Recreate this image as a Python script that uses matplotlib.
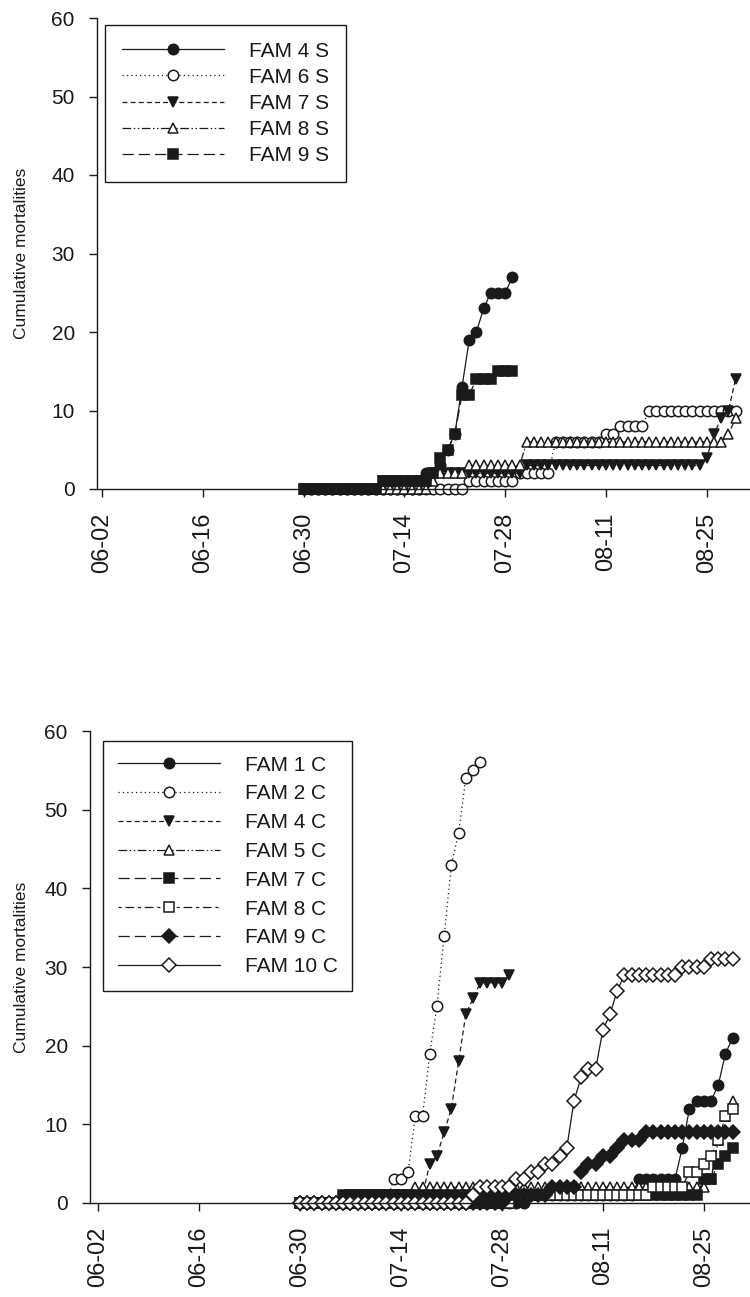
import numpy as np
import matplotlib
matplotlib.use('Agg')
import matplotlib.pyplot as plt

plt.rcParams['font.family'] = ['Liberation Sans', 'DejaVu Sans']

# Season axis: day 0 is 06-02, records start 06-30
season_start = np.datetime64('2000-06-02')
first_record = np.datetime64('2000-06-30')
tick_labels = ['06-02', '06-16', '06-30', '07-14', '07-28', '08-11', '08-25']
y_ticks = [0, 10, 20, 30, 40, 50, 60]

# ---- top panel (S families), daily cumulative mortalities from 06-30 ----
fam4s = [0, 0, 0, 0, 0, 0, 0, 0, 0, 0, 0, 0, 0, 0, 0, 0, 0,
         2, 2, 3, 5, 7, 13, 19, 20, 23, 25, 25, 25, 27]
fam6s = [0, 0, 0, 0, 0, 0, 0, 0, 0, 0, 0, 0, 0, 0, 0, 0, 0, 0, 0, 0, 0, 0, 0,
         1, 1, 1, 1, 1, 1, 1,
         2, 2, 2, 2, 2,
         6, 6, 6, 6, 6, 6, 6,
         7, 7,
         8, 8, 8, 8,
         10, 10, 10, 10, 10, 10, 10, 10, 10, 10, 10, 10, 10]
fam7s = [0, 0, 0, 0, 0, 0, 0, 0, 0, 0, 0,
         1, 1, 1, 1, 1, 1, 1,
         2, 2, 2, 2, 2, 2, 2, 2, 2, 2, 2, 2, 2,
         3, 3, 3, 3, 3, 3, 3, 3, 3, 3, 3, 3, 3, 3, 3, 3, 3, 3, 3, 3, 3, 3, 3, 3, 3,
         4, 7, 9, 10, 14]
fam8s = [0, 0, 0, 0, 0, 0, 0, 0, 0, 0, 0, 0, 0, 0, 0, 0, 0, 0,
         1,
         2, 2, 2, 2,
         3, 3, 3, 3, 3, 3, 3, 3,
         6, 6, 6, 6, 6, 6, 6, 6, 6, 6, 6, 6, 6, 6, 6, 6, 6, 6, 6, 6, 6, 6, 6, 6, 6, 6, 6, 6,
         7, 9]
fam9s = [0, 0, 0, 0, 0, 0, 0, 0, 0, 0, 0,
         1, 1, 1, 1, 1, 1, 1,
         2, 4, 5, 7, 12, 12, 14, 14, 14, 15, 15, 15]

# ---- bottom panel (C families) ----
fam1c = [0, 0, 0, 0, 0, 0, 0, 0, 0, 0, 0, 0, 0, 0, 0, 0,
         0, 0, 0, 0, 0, 0, 0, 0, 0, 0, 0, 0, 0, 0, 0, 0,
         1, 1, 1, 1, 1, 1, 1, 1, 1, 1, 1, 1, 1, 1, 1,
         3, 3, 3, 3, 3, 3,
         7, 12, 13, 13, 13, 15, 19, 21]
fam2c = [0, 0, 0, 0, 0, 0, 0, 0, 0, 0, 0, 0, 0,
         3, 3, 4, 11, 11, 19, 25, 34, 43, 47, 54, 55, 56]
fam4c = [0, 0, 0, 0, 0, 0, 0,
         1, 1, 1, 1, 1, 1, 1, 1, 1, 1, 1,
         5, 6, 9, 12, 18, 24, 26, 28, 28, 28, 28, 29]
fam5c = [0, 0, 0, 0, 0, 0, 0, 0, 0, 0, 0, 0,
         1, 1, 1, 1,
         2, 2, 2, 2, 2, 2, 2, 2, 2, 2, 2, 2, 2, 2, 2, 2, 2, 2, 2, 2, 2,
         2, 2, 2, 2, 2, 2, 2, 2, 2, 2, 2, 2, 2, 2, 2, 2, 2, 2, 2, 2,
         3, 8, 11, 13]
fam7c = [0, 0, 0, 0, 0, 0,
         1, 1, 1, 1, 1, 1, 1, 1, 1, 1, 1, 1, 1, 1, 1, 1, 1, 1, 1, 1, 1, 1, 1, 1, 1,
         1, 1, 1, 1, 1, 1, 1, 1, 1, 1, 1, 1, 1, 1, 1, 1, 1, 1, 1, 1, 1, 1, 1, 1, 1,
         3, 3, 5, 6, 7]
fam8c = [0, 0, 0, 0, 0, 0, 0, 0, 0, 0, 0, 0, 0, 0, 0,
         0, 0, 0, 0, 0, 0, 0, 0, 0, 0, 0, 0, 0, 0, 0,
         1, 1, 1, 1, 1, 1, 1, 1, 1, 1, 1, 1, 1, 1, 1, 1, 1, 1, 1,
         2, 2, 2, 2, 2,
         4, 4, 5, 6, 8, 11, 12]
fam9c = [0, 0, 0, 0, 0, 0, 0, 0, 0, 0, 0, 0, 0, 0, 0,
         0, 0, 0, 0, 0, 0, 0, 0, 0, 0, 0, 0, 0, 0,
         1, 1, 1, 1, 1, 1,
         2, 2, 2, 2,
         4, 5, 5, 6, 6, 7, 8, 8, 8,
         9, 9, 9, 9, 9, 9, 9, 9, 9, 9, 9, 9, 9]
fam10c = [0, 0, 0, 0, 0, 0, 0, 0, 0, 0, 0, 0,
          0, 0, 0, 0, 0, 0, 0, 0, 0, 0, 0, 0,
          1, 2, 2, 2, 2, 2,
          3, 3, 4, 4, 5, 5, 6, 7,
          13, 16, 17, 17, 22, 24, 27,
          29, 29, 29, 29, 29, 29, 29, 29,
          30, 30, 30, 30,
          31, 31, 31, 31]

ink = '#1a1a1a'
dotted = (0, (1, 2.5))
dashed = (0, (4, 2.5))
dash_dot_dot = (0, (7, 2, 1.2, 2, 1.2, 2))
long_dash = (0, (9, 4))
dash_mix = (0, (2.5, 3, 7, 3))

top_series = [
    ('FAM 4 S', fam4s, 'o', True, '-'),
    ('FAM 6 S', fam6s, 'o', False, dotted),
    ('FAM 7 S', fam7s, 'v', True, dashed),
    ('FAM 8 S', fam8s, '^', False, dash_dot_dot),
    ('FAM 9 S', fam9s, 's', True, long_dash),
]
bottom_series = [
    ('FAM 1 C', fam1c, 'o', True, '-'),
    ('FAM 2 C', fam2c, 'o', False, dotted),
    ('FAM 4 C', fam4c, 'v', True, dashed),
    ('FAM 5 C', fam5c, '^', False, dash_dot_dot),
    ('FAM 7 C', fam7c, 's', True, long_dash),
    ('FAM 8 C', fam8c, 's', False, dash_mix),
    ('FAM 9 C', fam9c, 'D', True, long_dash),
    ('FAM 10 C', fam10c, 'D', False, '-'),
]

W, H = 750, 1297
fig = plt.figure(figsize=(W / 100, H / 100), dpi=100)

offset = int((first_record - season_start) / np.timedelta64(1, 'D'))
tick_days = [14 * i for i in range(len(tick_labels))]


def draw_panel(ax, series, xlim, label_x, legend_xy, spacing, pad):
    for name, vals, mk, filled, ls in series:
        days = offset + np.arange(len(vals))
        size = 6.8 if mk == 'D' else 7.5
        ax.plot(days, vals, color=ink, linestyle=ls, linewidth=0.9,
                marker=mk, markersize=size, markeredgewidth=1.1,
                markerfacecolor=ink if filled else 'white',
                markeredgecolor=ink, label=name, clip_on=False)
    ax.set_xlim(*xlim)
    ax.set_ylim(0, 60)
    ax.set_xticks(tick_days)
    ax.set_xticklabels(tick_labels, rotation=90)
    ax.set_yticks(y_ticks)
    ax.tick_params(axis='both', direction='out', length=6, width=1,
                   colors=ink)
    ax.tick_params(axis='y', labelsize=15, pad=10)
    ax.tick_params(axis='x', labelsize=17, pad=11)
    for side in ['top', 'right']:
        ax.spines[side].set_visible(False)
    for side in ['left', 'bottom']:
        ax.spines[side].set_linewidth(1.0)
        ax.spines[side].set_color(ink)
    ax.set_ylabel('Cumulative mortalities', fontsize=12.5, color=ink)
    ax.yaxis.set_label_coords(label_x, 0.5)
    leg = ax.legend(loc='upper left',
                    bbox_to_anchor=(legend_xy[0] / W, 1 - legend_xy[1] / H),
                    bbox_transform=fig.transFigure, borderaxespad=0,
                    fontsize=15, handlelength=4.9, handletextpad=1.2,
                    labelspacing=spacing, borderpad=pad, numpoints=1,
                    fancybox=False, framealpha=1, edgecolor=ink)
    leg.get_frame().set_linewidth(1.0)
    for t in leg.get_texts():
        t.set_color(ink)


ax_top = fig.add_axes([97 / W, 1 - 489 / H, (W - 97) / W, (489 - 18) / H])
draw_panel(ax_top, top_series, (-0.7, 90), -0.104, (105, 25), 0.34, 0.8)

ax_bot = fig.add_axes([90 / W, 1 - 1203 / H, (W - 90) / W, (1203 - 731) / H])
draw_panel(ax_bot, bottom_series, (-1.1, 90.4), -0.092, (103, 741), 0.47, 0.7)

fig.savefig('out.png', dpi=100)
